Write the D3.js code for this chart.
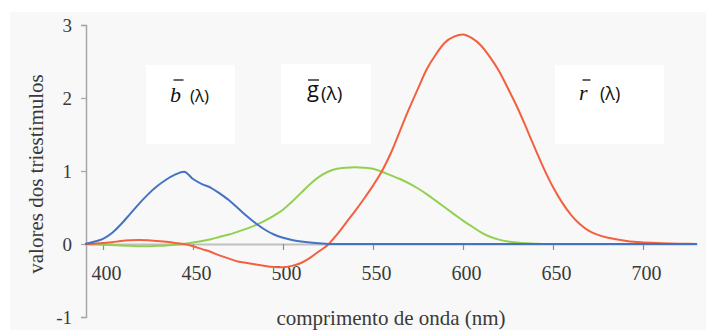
<!DOCTYPE html>
<html>
<head>
<meta charset="utf-8">
<script src="https://cdn.jsdelivr.net/npm/d3@7"></script>
<style>
  html, body { margin: 0; padding: 0; background: #ffffff; }
  svg { display: block; }
</style>
</head>
<body>
<svg id="chart" width="706" height="334"></svg>
<script>
// Wavelength grid (nm), 5 nm steps
const wavelengths = d3.range(390, 731, 5);

// Tristimulus colour-matching values, one entry per wavelength
const rBar = [
  0.000, 0.005, 0.015, 0.025, 0.040, 0.050, 0.055, 0.050, 0.040, 0.030,
  0.015, 0.000, -0.030, -0.070, -0.110, -0.160, -0.200, -0.240, -0.260, -0.280,
  -0.300, -0.315, -0.320, -0.300, -0.260, -0.190, -0.100, -0.010, 0.130, 0.290,
  0.450, 0.620, 0.800, 1.000, 1.250, 1.550, 1.850, 2.130, 2.400, 2.600,
  2.760, 2.840, 2.870, 2.820, 2.720, 2.560, 2.370, 2.130, 1.880, 1.600,
  1.310, 1.030, 0.780, 0.570, 0.400, 0.270, 0.180, 0.125, 0.090, 0.065,
  0.045, 0.030, 0.022, 0.016, 0.011, 0.007, 0.004, 0.002, 0.001
];
const gBar = [
  0.000, -0.005, -0.010, -0.015, -0.020, -0.025, -0.030, -0.030, -0.025, -0.020,
  -0.010, 0.000, 0.020, 0.040, 0.065, 0.100, 0.130, 0.170, 0.210, 0.260,
  0.320, 0.390, 0.470, 0.580, 0.700, 0.820, 0.920, 0.990, 1.030, 1.045,
  1.050, 1.045, 1.030, 0.990, 0.940, 0.890, 0.830, 0.760, 0.680, 0.590,
  0.500, 0.410, 0.320, 0.240, 0.160, 0.100, 0.060, 0.035, 0.020, 0.010,
  0.005, 0.000, 0.000, 0.000, 0.000, 0.000, 0.000, 0.000, 0.000, 0.000,
  0.000, 0.000, 0.000, 0.000, 0.000, 0.000, 0.000, 0.000, 0.000
];
const bBar = [
  0.000, 0.030, 0.070, 0.150, 0.270, 0.410, 0.550, 0.680, 0.790, 0.880,
  0.950, 0.990, 0.890, 0.820, 0.770, 0.690, 0.600, 0.490, 0.380, 0.280,
  0.195, 0.130, 0.085, 0.055, 0.035, 0.020, 0.010, 0.000, 0.000, 0.000,
  0.000, 0.000, 0.000, 0.000, 0.000, 0.000, 0.000, 0.000, 0.000, 0.000,
  0.000, 0.000, 0.000, 0.000, 0.000, 0.000, 0.000, 0.000, 0.000, 0.000,
  0.000, 0.000, 0.000, 0.000, 0.000, 0.000, 0.000, 0.000, 0.000, 0.000,
  0.000, 0.000, 0.000, 0.000, 0.000, 0.000, 0.000, 0.000, 0.000
];

const xTicks = [400, 450, 500, 550, 600, 650, 700];
const yTicks = [-1, 0, 1, 2, 3];
const xTitle = "comprimento de onda (nm)";
const yTitle = "valores dos triestimulos";

// Curve labels: letter with an overbar, followed by (λ)
const labels = [
  { letter: "b", italic: true,  serif: true,  box: [146, 65, 89, 79],  lx: 170, ly: 102, px: 190, py: 102, ps: 17 },
  { letter: "g", italic: false, serif: false, box: [281, 64, 90, 80],  lx: 307, ly: 97,  px: 321, py: 100, ps: 19 },
  { letter: "r", italic: true,  serif: true,  box: [555, 65, 109, 79], lx: 579, ly: 100, px: 600, py: 100, ps: 18 }
];

const series = [
  { name: "g", values: gBar, color: "#92d050" },
  { name: "r", values: rBar, color: "#f2603f" },
  { name: "b", values: bBar, color: "#4472c4" }
];

const svg = d3.select("#chart");

// Plot background panel
svg.append("rect")
  .attr("x", 10).attr("y", 12)
  .attr("width", 696).attr("height", 318)
  .attr("fill", "#f8f8f8");

const x = d3.scaleLinear().domain([390, 730]).range([85, 697]);
const y = d3.scaleLinear().domain([-1, 3]).range([317, 25]);

// Label boxes sit behind the curves
labels.forEach(l => {
  svg.append("rect")
    .attr("x", l.box[0]).attr("y", l.box[1])
    .attr("width", l.box[2]).attr("height", l.box[3])
    .attr("fill", "#ffffff");
});

const axisColor = "#a6a6a6";
const textColor = "#3a3a3a";
const serifFont = "'Liberation Serif', 'Times New Roman', serif";

// Y axis
const yAxis = svg.append("g")
  .attr("transform", `translate(${x(390) + 1},0)`)
  .call(d3.axisLeft(y).tickValues(yTicks).tickSize(5).tickFormat(d => String(d)));
yAxis.select(".domain").attr("stroke", axisColor).attr("stroke-width", 1.5);
yAxis.selectAll(".tick line").attr("stroke", axisColor).attr("stroke-width", 1.2);
yAxis.selectAll(".tick text")
  .attr("x", -14)
  .attr("font-family", serifFont)
  .attr("font-size", 19)
  .attr("fill", textColor);

// X axis along the zero line
const xAxis = svg.append("g")
  .attr("transform", `translate(0,${y(0)})`)
  .call(d3.axisBottom(x).tickValues(xTicks).tickSize(6).tickSizeOuter(0).tickFormat(d => String(d)));
xAxis.select(".domain").attr("stroke", "#c0c0c0").attr("stroke-width", 2.2);
xAxis.selectAll(".tick line").attr("stroke", "#8c8c8c").attr("stroke-width", 1.2);
xAxis.selectAll(".tick text")
  .attr("x", 3)
  .attr("y", 36)
  .attr("dy", 0)
  .attr("font-family", serifFont)
  .attr("font-size", 20)
  .attr("fill", textColor);

// Axis titles
svg.append("text")
  .attr("x", 391).attr("y", 325)
  .attr("text-anchor", "middle")
  .attr("font-family", serifFont)
  .attr("font-size", 21)
  .attr("fill", textColor)
  .text(xTitle);

svg.append("text")
  .attr("transform", "translate(43,174) rotate(-90)")
  .attr("text-anchor", "middle")
  .attr("font-family", serifFont)
  .attr("font-size", 21)
  .attr("fill", textColor)
  .text(yTitle);

// Curves
const line = d3.line()
  .x((d, i) => x(wavelengths[i]))
  .y(d => y(d))
  .curve(d3.curveMonotoneX);

series.forEach(s => {
  svg.append("path")
    .datum(s.values)
    .attr("fill", "none")
    .attr("stroke", s.color)
    .attr("stroke-width", 2)
    .attr("stroke-linejoin", "round")
    .attr("d", line);
});

// Curve labels
labels.forEach(l => {
  const t = svg.append("text")
    .attr("x", l.lx).attr("y", l.ly)
    .attr("font-family", l.serif ? serifFont : "'Open Sans', 'Noto Sans', sans-serif")
    .attr("font-style", l.italic ? "italic" : "normal")
    .attr("font-size", 22)
    .attr("fill", "#111111")
    .text(l.letter);
  const bb = t.node().getBBox();
  const slant = l.italic ? 2.5 : 0;
  svg.append("line")
    .attr("x1", bb.x + 1 + slant).attr("x2", bb.x + bb.width + slant)
    .attr("y1", 80).attr("y2", 80)
    .attr("stroke", "#111111")
    .attr("stroke-width", 1.3);
  svg.append("text")
    .attr("x", l.px).attr("y", l.py)
    .attr("font-family", "'Open Sans', 'Noto Sans', sans-serif")
    .attr("font-size", l.ps)
    .attr("fill", "#111111")
    .text("(λ)");
});
</script>
</body>
</html>
